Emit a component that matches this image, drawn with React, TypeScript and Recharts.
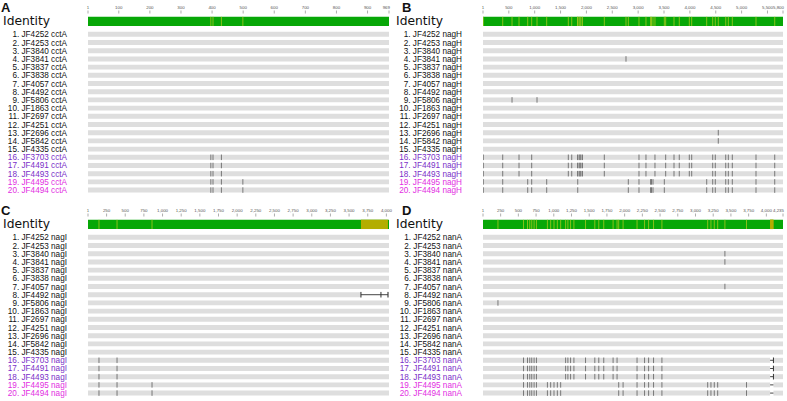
import React from "react";
import { ScatterChart, Scatter, XAxis, YAxis, ReferenceArea, ReferenceLine } from "recharts";

// strains, in alignment order
const rowIds = [
  "JF4252", "JF4253", "JF3840", "JF3841", "JF3837", "JF3838", "JF4057", "JF4492", "JF5806", "JF1863",
  "JF2697", "JF4251", "JF2696", "JF5842", "JF4335", "JF3703", "JF4491", "JF4493", "JF4495", "JF4494",
];
const groupA = [16, 17, 18];
const groupB = [19, 20];

// cctA
const cctALength = 969;
const cctATicks = [1, 100, 200, 300, 400, 500, 600, 700, 800, 900, 969];
const cctAGroupA = [396, 403, 430];
const cctAGroupB = [396, 403, 430, 499];

// nagH
const nagHLength = 5800;
const nagHTicks = [1, 500, 1000, 1500, 2000, 2500, 3000, 3500, 4000, 4500, 5000, 5500, 5800];
const nagHGroupA = [7, 382, 697, 942, 1650, 1716, 1828, 1857, 1876, 1895, 1924, 2346, 3016, 3151, 3325, 3532, 3693, 3795, 3989, 4035, 4441, 4491, 4693, 4743, 4820, 5278, 5640];
const nagHGroupB = [7, 382, 865, 942, 1232, 1832, 2810, 3016, 3240, 3258, 3287, 3506, 4325, 4441, 4491, 4693, 4743, 4820, 5278, 5640];
const nagHRow4 = [2765];
const nagHRow9 = [562, 1045];
const nagHRows13to14 = [4549];

// nagI
const nagILength = 4035;
const nagITicks = [1, 250, 500, 750, 1000, 1250, 1500, 1750, 2000, 2250, 2500, 2750, 3000, 3250, 3500, 3750, 4000];
const nagIGroupA = [148, 390];
const nagIGroupB = [148, 390, 859];
const nagIRow8Gap = [3659, 4021];
const nagIRow8Caps = [3659, 3927, 4021];

// nanA
const nanALength = 4235;
const nanATicks = [1, 250, 500, 750, 1000, 1250, 1500, 1750, 2000, 2250, 2500, 2750, 3000, 3250, 3500, 3750, 4000, 4235];
const nanAGroupA = [573, 629, 661, 689, 722, 755, 1167, 1199, 1237, 1284, 1448, 1579, 1635, 1705, 1837, 1893, 2175, 2281, 2338, 2408, 2526];
const nanAGroupB = [573, 629, 661, 689, 722, 755, 910, 956, 1003, 1050, 1097, 1916, 1978, 2175, 2281, 2338, 2408, 2526, 3172, 3218, 3265, 3313, 3720];
const nanARows3to7 = [3415];
const nanARow9 = [212];
const nanAGap = [4053, 4100];

type MarkSet = { rows: number[]; pos: number[] };
type Gap = { rows: number[]; from: number; to: number; caps: number[] };

const GREEN = "#07a707";
const GRAY = "#dedede";
const PLOT_TOP = 14;
const Y_MIN = -1.48;
const Y_MAX = 20.6;
const IDENT_Y = -0.58;

function labelColor(row: number) {
  if (groupA.includes(row)) return "#7a2fc8";
  if (groupB.includes(row)) return "#e22ee2";
  return "#111";
}

function Panel(props: {
  letter: string;
  gene: string;
  length: number;
  ticks: number[];
  marks: MarkSet[];
  gaps: Gap[];
  left: number;
  top: number;
  width: number;
  axisWidth: number;
}) {
  const { letter, gene, length, ticks, marks, gaps, left, top, width, axisWidth } = props;
  const rows = rowIds.map((_, i) => i + 1);

  const points = marks.flatMap((m) => m.rows.flatMap((r) => m.pos.map((p) => ({ x: p, y: r }))));
  const capPoints = gaps.flatMap((g) => g.rows.flatMap((r) => g.caps.map((p) => ({ x: p, y: r }))));
  const identityPoints = Array.from(new Set(marks.flatMap((m) => m.pos))).map((p) => ({ x: p, y: IDENT_Y }));

  const rowTick = (p: any) => {
    const v = p.payload.value;
    if (v === IDENT_Y) {
      return (
        <text x={3} y={p.y + 4} fontSize={12.3} fontFamily="DejaVu Sans" fill="#111">
          Identity
        </text>
      );
    }
    return (
      <text x={axisWidth - 21} y={p.y + 3} fontSize={8.2} fontFamily="Liberation Sans, Arial" textAnchor="end" fill={labelColor(v)}>
        {`${v}. ${rowIds[v - 1]} ${gene}`}
      </text>
    );
  };

  const posTick = (p: any) => {
    const v = p.payload.value;
    const last = v === length;
    return (
      <g>
        <line x1={p.x} x2={p.x} y1={PLOT_TOP - 3.5} y2={PLOT_TOP - 0.5} stroke="#777" strokeWidth={0.6} />
        <text
          x={last ? p.x + 1 : p.x}
          y={PLOT_TOP - 5}
          fontSize={4.4}
          fontFamily="Liberation Sans, Arial"
          textAnchor={last ? "end" : "middle"}
          fill="#555"
        >
          {v.toLocaleString("en-US")}
        </text>
      </g>
    );
  };

  // gray bars, split around gaps
  const barSegments = rows.flatMap((r) => {
    const g = gaps.find((gp) => gp.rows.includes(r));
    if (!g) return [{ r, x1: 1, x2: length }];
    const segs = [{ r, x1: 1, x2: g.from }];
    if (g.to < length - 5) segs.push({ r, x1: g.to, x2: length });
    return segs;
  });

  return (
    <div style={{ position: "absolute", left, top, width, height: 198 }}>
      <div
        style={{
          position: "absolute",
          left: letter === "A" || letter === "C" ? 1 : 9,
          top: 0,
          font: "bold 13px 'Liberation Sans', Arial",
          color: "#111",
        }}
      >
        {letter}
      </div>
      <ScatterChart width={width} height={198} margin={{ top: 0, right: 4, bottom: 3, left: 0 }}>
        <XAxis
          xAxisId={0}
          dataKey="x"
          type="number"
          orientation="top"
          domain={[1, length]}
          ticks={ticks}
          interval={0}
          height={PLOT_TOP}
          axisLine={false}
          tickLine={false}
          tick={posTick}
          allowDataOverflow
        />
        <YAxis
          yAxisId={0}
          dataKey="y"
          type="number"
          domain={[Y_MIN, Y_MAX]}
          reversed
          ticks={[IDENT_Y, ...rows]}
          interval={0}
          width={axisWidth}
          axisLine={false}
          tickLine={false}
          tick={rowTick}
          allowDataOverflow
        />
        {barSegments.map((s, i) => (
          <ReferenceArea key={`b${i}`} x1={s.x1} x2={s.x2} y1={s.r - 0.3} y2={s.r + 0.3} fill={GRAY} fillOpacity={1} stroke="none" />
        ))}
        {gaps.flatMap((g) =>
          g.rows.map((r) => (
            <ReferenceLine
              key={`g${r}`}
              segment={[{ x: g.from, y: r }, { x: g.to, y: r }]}
              stroke="#444"
              strokeWidth={1}
            />
          ))
        )}
        <ReferenceArea x1={1} x2={length} y1={IDENT_Y - 0.57} y2={IDENT_Y + 0.57} fill={GREEN} fillOpacity={1} stroke="none" />
        {gaps.map((g, i) => (
          <ReferenceArea key={`o${i}`} x1={g.from} x2={g.to} y1={IDENT_Y - 0.57} y2={IDENT_Y + 0.57} fill="#b3ad00" fillOpacity={1} stroke="none" />
        ))}
        <Scatter
          data={identityPoints}
          isAnimationActive={false}
          shape={(p: any) => <rect x={p.cx - 0.5} y={p.cy - 4.6} width={1} height={9.2} fill="#a6c81e" fillOpacity={0.8} />}
        />
        <Scatter
          data={points}
          isAnimationActive={false}
          shape={(p: any) => <rect x={p.cx - 0.5} y={p.cy - 2.8} width={1} height={5.6} fill="#333" fillOpacity={0.6} />}
        />
        <Scatter
          data={capPoints}
          isAnimationActive={false}
          shape={(p: any) => <rect x={p.cx - 0.5} y={p.cy - 2.8} width={1} height={5.6} fill="#333" />}
        />
      </ScatterChart>
    </div>
  );
}

export default function App() {
  return (
    <div style={{ position: "absolute", left: 0, top: 0, width: 787, height: 401, background: "#fff", overflow: "hidden" }}>
      <Panel
        letter="A"
        gene="cctA"
        length={cctALength}
        ticks={cctATicks}
        marks={[
          { rows: groupA, pos: cctAGroupA },
          { rows: groupB, pos: cctAGroupB },
        ]}
        gaps={[]}
        left={0}
        top={0}
        width={393}
        axisWidth={88}
      />
      <Panel
        letter="B"
        gene="nagH"
        length={nagHLength}
        ticks={nagHTicks}
        marks={[
          { rows: groupA, pos: nagHGroupA },
          { rows: groupB, pos: nagHGroupB },
          { rows: [4], pos: nagHRow4 },
          { rows: [9], pos: nagHRow9 },
          { rows: [13, 14], pos: nagHRows13to14 },
        ]}
        gaps={[]}
        left={393}
        top={0}
        width={394}
        axisWidth={90}
      />
      <Panel
        letter="C"
        gene="nagI"
        length={nagILength}
        ticks={nagITicks}
        marks={[
          { rows: groupA, pos: nagIGroupA },
          { rows: groupB, pos: nagIGroupB },
        ]}
        gaps={[{ rows: [8], from: nagIRow8Gap[0], to: nagIRow8Gap[1], caps: nagIRow8Caps }]}
        left={0}
        top={203}
        width={393}
        axisWidth={88}
      />
      <Panel
        letter="D"
        gene="nanA"
        length={nanALength}
        ticks={nanATicks}
        marks={[
          { rows: groupA, pos: nanAGroupA },
          { rows: groupB, pos: nanAGroupB },
          { rows: [3, 4, 7], pos: nanARows3to7 },
          { rows: [9], pos: nanARow9 },
        ]}
        gaps={[
          { rows: groupA, from: nanAGap[0], to: nanAGap[1], caps: [nanAGap[1]] },
          { rows: groupB, from: nanAGap[0], to: nanAGap[1], caps: [] },
        ]}
        left={393}
        top={203}
        width={394}
        axisWidth={90}
      />
    </div>
  );
}
